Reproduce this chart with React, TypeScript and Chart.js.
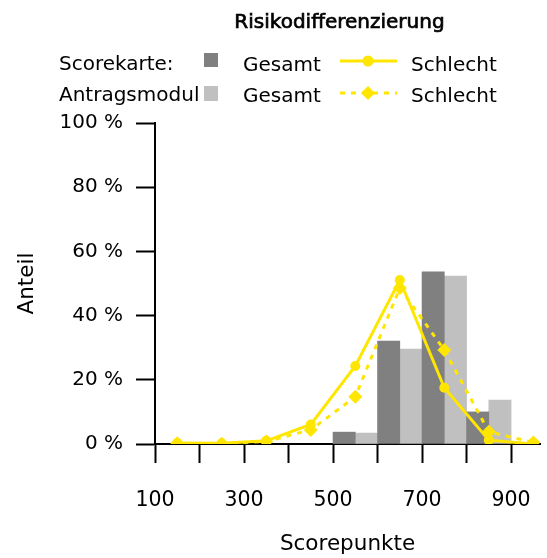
import React, { useEffect, useRef } from "react";
import { Chart, registerables } from "chart.js";

Chart.register(...registerables);

const binCenters = [550, 650, 750, 850];
const gesamtScorekarte = [3.7, 32.1, 53.6, 10.0];
const gesamtAntragsmodul = [3.4, 29.6, 52.3, 13.7];

const pointX = [150, 250, 350, 450, 550, 650, 750, 850, 950];
const schlechtScorekarte = [0.3, 0.2, 1.0, 6.1, 24.3, 51.1, 17.5, 1.2, 0];
const schlechtAntragsmodul = [0.2, 0.1, 0.8, 4.4, 14.7, 48.6, 29.3, 3.8, 0.5];

const xTickValues = [100, 200, 300, 400, 500, 600, 700, 800, 900];
const xLabelValues = [100, 300, 500, 700, 900];

const YELLOW = "#FFE600";
const DARK = "#808080";
const LIGHT = "#C0C0C0";
const FONT = "'DejaVu Sans', sans-serif";

const legendPlugin = {
  id: "customLegend",
  afterDraw(chart: any) {
    const ctx = chart.ctx as CanvasRenderingContext2D;
    ctx.save();
    ctx.fillStyle = "#000";
    ctx.strokeStyle = "#000";
    ctx.textBaseline = "alphabetic";
    ctx.textAlign = "center";
    ctx.font = `20px ${FONT}`;
    ctx.lineWidth = 0.7;
    ctx.fillText("Risikodifferenzierung", 339.5, 28);
    ctx.strokeText("Risikodifferenzierung", 339.5, 28);

    ctx.textAlign = "left";
    ctx.font = `20px ${FONT}`;
    ctx.fillText("Scorekarte:", 59, 70);
    ctx.fillText("Antragsmodul", 59, 101);
    ctx.fillText("Gesamt", 243, 71);
    ctx.fillText("Gesamt", 243, 102);
    ctx.fillText("Schlecht", 411, 71);
    ctx.fillText("Schlecht", 411, 102);

    ctx.fillStyle = DARK;
    ctx.fillRect(204, 53, 14, 14);
    ctx.fillStyle = LIGHT;
    ctx.fillRect(204, 86, 14, 15);

    ctx.strokeStyle = YELLOW;
    ctx.fillStyle = YELLOW;
    ctx.lineWidth = 3;
    ctx.beginPath();
    ctx.moveTo(340, 61);
    ctx.lineTo(397, 61);
    ctx.stroke();
    ctx.beginPath();
    ctx.arc(368, 61, 5.5, 0, Math.PI * 2);
    ctx.fill();

    ctx.setLineDash([5, 6]);
    ctx.beginPath();
    ctx.moveTo(340, 93);
    ctx.lineTo(397, 93);
    ctx.stroke();
    ctx.setLineDash([]);
    ctx.beginPath();
    ctx.moveTo(368, 86);
    ctx.lineTo(375, 93);
    ctx.lineTo(368, 100);
    ctx.lineTo(361, 93);
    ctx.closePath();
    ctx.fill();
    ctx.restore();
  },
};

export default function App() {
  const ref = useRef<HTMLCanvasElement | null>(null);

  useEffect(() => {
    document.body.style.margin = "0";
    document.body.style.overflow = "hidden";
    const canvas = ref.current;
    if (!canvas) return;
    const chart = new Chart(canvas, {
      type: "bar",
      data: {
        datasets: [
          {
            type: "line",
            label: "Schlecht (Scorekarte)",
            data: pointX.map((x, i) => ({ x, y: schlechtScorekarte[i] })),
            borderColor: YELLOW,
            backgroundColor: YELLOW,
            borderWidth: 3,
            pointRadius: 5,
            pointStyle: "circle",
            pointBorderWidth: 0,
            tension: 0,
          },
          {
            type: "line",
            label: "Schlecht (Antragsmodul)",
            data: pointX.map((x, i) => ({ x, y: schlechtAntragsmodul[i] })),
            borderColor: YELLOW,
            backgroundColor: YELLOW,
            borderWidth: 3,
            borderDash: [5, 6],
            pointRadius: 7,
            pointStyle: "rectRot",
            pointBorderWidth: 0,
            tension: 0,
          },
          {
            type: "bar",
            label: "Gesamt (Scorekarte)",
            data: binCenters.map((x, i) => ({ x, y: gesamtScorekarte[i] })),
            backgroundColor: DARK,
            categoryPercentage: 1,
            barPercentage: 1,
          },
          {
            type: "bar",
            label: "Gesamt (Antragsmodul)",
            data: binCenters.map((x, i) => ({ x, y: gesamtAntragsmodul[i] })),
            backgroundColor: LIGHT,
            categoryPercentage: 1,
            barPercentage: 1,
          },
        ],
      } as any,
      options: {
        responsive: false,
        animation: false,
        layout: { padding: { top: 123, right: 7, left: 0, bottom: 0 } },
        plugins: {
          legend: { display: false },
          tooltip: { enabled: false },
          title: { display: false },
        },
        scales: {
          x: {
            type: "linear",
            min: 100,
            max: 965,
            offset: false,
            afterFit: (s: any) => {
              s.height = 114;
              s.paddingLeft = 0;
              s.paddingRight = 0;
            },
            afterBuildTicks: (s: any) => {
              s.ticks = xTickValues.map((v) => ({ value: v }));
            },
            grid: {
              display: true,
              drawOnChartArea: false,
              drawTicks: true,
              tickLength: 19,
              tickWidth: 2,
              tickColor: "#000",
              offset: false,
            },
            border: { display: true, color: "#000", width: 2 },
            ticks: {
              autoSkip: false,
              maxRotation: 0,
              padding: 25,
              color: "#000",
              font: { family: FONT, size: 20.5 },
              callback: (v: any) => (xLabelValues.includes(Number(v)) ? String(v) : ""),
            },
            title: {
              display: true,
              text: "Scorepunkte",
              color: "#000",
              font: { family: FONT, size: 21.5 },
              padding: { top: 0, bottom: 1 },
            },
          },
          y: {
            type: "linear",
            min: 0,
            max: 100,
            afterFit: (s: any) => {
              s.width = 155;
            },
            grid: {
              display: true,
              drawOnChartArea: false,
              drawTicks: true,
              tickLength: 19,
              tickWidth: 2,
              tickColor: "#000",
            },
            border: { display: true, color: "#000", width: 2 },
            ticks: {
              stepSize: 20,
              padding: 13,
              color: "#000",
              font: { family: FONT, size: 20 },
              callback: (v: any) => `${v} %`,
            },
            title: {
              display: true,
              text: "Anteil",
              color: "#000",
              font: { family: FONT, size: 21.5 },
              padding: { top: 15, bottom: 0 },
            },
          },
        },
      } as any,
      plugins: [legendPlugin],
    });
    return () => chart.destroy();
  }, []);

  return (
    <div style={{ width: 547, height: 558 }}>
      <canvas ref={ref} width={547} height={558} style={{ display: "block" }} />
    </div>
  );
}
